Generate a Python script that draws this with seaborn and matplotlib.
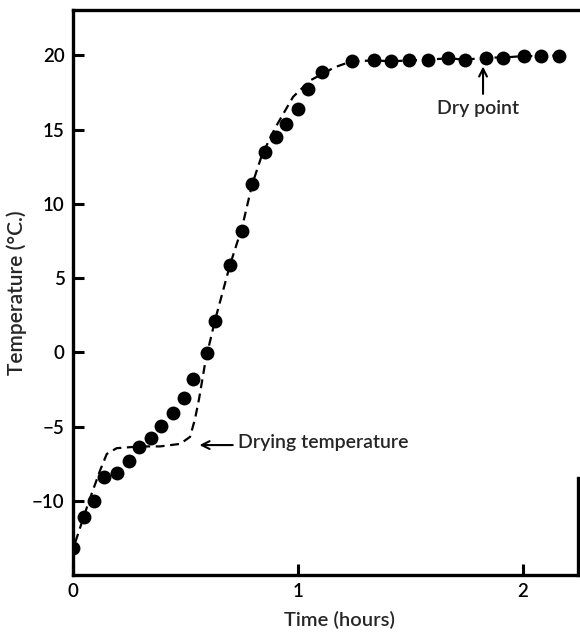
import matplotlib
matplotlib.use("Agg")
import matplotlib.pyplot as plt
import seaborn as sns
import pandas as pd

# Measured points
time_h = [0.0, 0.049, 0.093, 0.139, 0.194, 0.249, 0.295, 0.345, 0.391, 0.443,
          0.493, 0.532, 0.594, 0.632, 0.698, 0.750, 0.794, 0.853, 0.902, 0.947,
          0.999, 1.046, 1.105, 1.239, 1.337, 1.415, 1.494, 1.576, 1.668, 1.744,
          1.835, 1.912, 2.004, 2.080, 2.158]
temp_c = [-13.2, -11.1, -10.0, -8.4, -8.1, -7.3, -6.35, -5.8, -4.95, -4.1,
          -3.1, -1.8, -0.05, 2.1, 5.9, 8.2, 11.3, 13.5, 14.5, 15.4,
          16.4, 17.7, 18.85, 19.6, 19.65, 19.6, 19.65, 19.7, 19.8, 19.7,
          19.85, 19.85, 19.95, 19.95, 19.95]

# Dashed curve
curve_t = [0.01, 0.067, 0.12, 0.15, 0.194, 0.298, 0.387, 0.476, 0.52, 0.542,
           0.56, 0.59, 0.631, 0.698, 0.751, 0.796, 0.84, 0.898, 0.978, 1.053,
           1.164, 1.239, 1.337, 1.415, 1.494, 1.576, 1.668, 1.744, 1.835, 1.912,
           2.004, 2.080, 2.164]
curve_T = [-12.8, -10.2, -7.97, -6.85, -6.46, -6.34, -6.34, -6.17, -5.7, -4.5,
           -3.15, -0.47, 2.15, 5.9, 8.4, 11.3, 13.3, 15.1, 17.2, 18.3,
           19.2, 19.6, 19.65, 19.6, 19.65, 19.7, 19.8, 19.7, 19.85, 19.85,
           19.95, 19.95, 20.0]

x_ticks = [0, 1, 2]
y_ticks = [-10, -5, 0, 5, 10, 15, 20]

sns.set_style("ticks")
plt.rcParams['font.family'] = ['Lato', 'DejaVu Sans']
plt.rcParams['axes.unicode_minus'] = True

fig = plt.figure(figsize=(5.8, 6.33), dpi=100)
ax = fig.add_axes([73/580, 1-575/633, (578-73)/580, (575-10)/633])

pts = pd.DataFrame({"t": time_h, "T": temp_c})
crv = pd.DataFrame({"t": curve_t, "T": curve_T})

sns.lineplot(data=crv, x="t", y="T", sort=False, ax=ax, color="black",
             linewidth=1.6, linestyle=(0, (4, 2.5)), zorder=2)
sns.scatterplot(data=pts, x="t", y="T", ax=ax, color="black", s=100,
                edgecolor="black", linewidth=0, zorder=3)

ax.set_xlim(0, 2.244)
ax.set_ylim(-15, 23.05)
ax.set_xticks(x_ticks)
ax.set_yticks(y_ticks)
ax.set_xticklabels([str(v) for v in x_ticks])
ax.set_yticklabels([str(v).replace('-', '\u2212') for v in y_ticks])

for side in ['left', 'bottom', 'top', 'right']:
    ax.spines[side].set_linewidth(2.4)
    ax.spines[side].set_color('black')
ax.spines['right'].set_bounds(-15, -8.5)

ax.tick_params(axis='both', direction='in', length=8, width=2.2,
               labelsize=13.5, colors='black', pad=6)
for lab in ax.get_xticklabels() + ax.get_yticklabels():
    lab.set_fontweight('semibold')

ax.set_xlabel("Time (hours)", fontsize=14.5, fontweight='semibold')
ax.set_ylabel("Temperature (°C.)", fontsize=15, fontweight='semibold')
ax.xaxis.set_label_coords(0.527, -0.064)
ax.yaxis.set_label_coords(-0.091, 0.5)

ax.annotate("", xy=(0.562, -6.25), xytext=(0.71, -6.25),
            arrowprops=dict(arrowstyle="->", color="black", lw=1.5,
                            shrinkA=0, shrinkB=0, mutation_scale=14))
ax.text(0.733, -6.1, "Drying temperature", fontsize=14, fontweight='semibold',
        ha="left", va="center")

ax.annotate("", xy=(1.822, 19.25), xytext=(1.822, 17.4),
            arrowprops=dict(arrowstyle="->", color="black", lw=1.5,
                            shrinkA=0, shrinkB=0, mutation_scale=14))
ax.text(1.80, 16.4, "Dry point", fontsize=14, fontweight='semibold',
        ha="center", va="center")

fig.savefig("out.png", dpi=100)
